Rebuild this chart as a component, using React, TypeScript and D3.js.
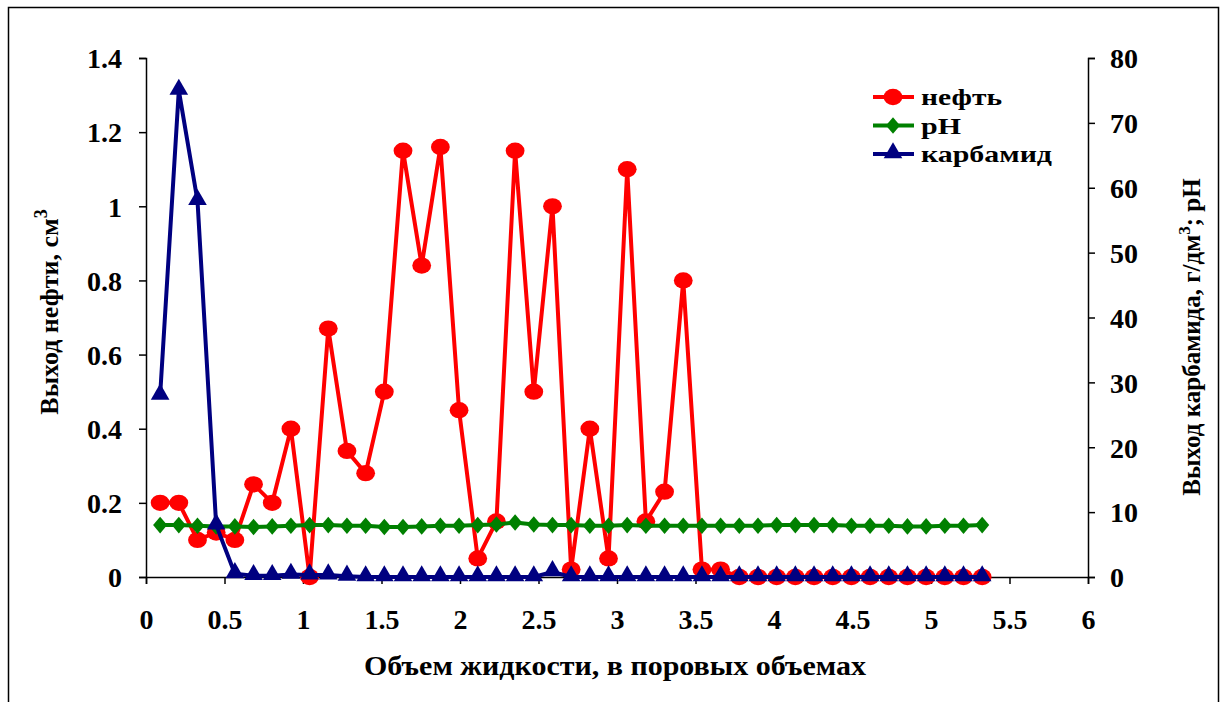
import React, { useEffect, useRef } from "react";
import * as d3 from "d3";

// pore volumes
const volumes = [
  0.09, 0.209, 0.328, 0.447, 0.566, 0.685, 0.804, 0.923, 1.042, 1.161,
  1.28, 1.399, 1.518, 1.637, 1.756, 1.875, 1.994, 2.113, 2.232, 2.351,
  2.47, 2.589, 2.708, 2.827, 2.946, 3.065, 3.184, 3.303, 3.422, 3.541,
  3.66, 3.779, 3.898, 4.017, 4.136, 4.255, 4.374, 4.493, 4.612, 4.731,
  4.85, 4.969, 5.088, 5.207, 5.326,
];

// oil output, cm3 (left axis)
const oil = [
  0.2, 0.2, 0.1, 0.12, 0.1, 0.25, 0.2, 0.4, 0.0, 0.67,
  0.34, 0.28, 0.5, 1.15, 0.84, 1.16, 0.45, 0.05, 0.15, 1.15,
  0.5, 1.0, 0.02, 0.4, 0.05, 1.1, 0.15, 0.23, 0.8, 0.02,
  0.02, 0, 0, 0, 0, 0, 0, 0, 0, 0,
  0, 0, 0, 0, 0,
];

// pH (right axis)
const ph = [
  8.0, 8.0, 7.9, 7.8, 7.8, 7.7, 7.8, 7.9, 8.0, 8.0,
  7.9, 7.9, 7.7, 7.7, 7.8, 7.9, 7.9, 8.0, 8.1, 8.4,
  8.1, 8.0, 8.0, 7.9, 7.9, 8.0, 7.9, 7.9, 7.9, 7.9,
  7.9, 7.9, 7.9, 8.0, 8.0, 8.0, 8.0, 7.9, 7.9, 7.9,
  7.8, 7.8, 7.9, 7.9, 8.0,
];

// carbamide output, g/dm3 (right axis)
const carbamide = [
  28, 75, 58, 8, 0.5, 0.2, 0.2, 0.4, 0.3, 0.3,
  0.1, 0, 0, 0, 0, 0, 0, 0, 0, 0,
  0, 0.8, 0, 0, 0, 0, 0, 0, 0, 0,
  0, 0, 0, 0, 0, 0, 0, 0, 0, 0,
  0, 0, 0, 0, 0,
];

const xTicks = [0, 0.5, 1, 1.5, 2, 2.5, 3, 3.5, 4, 4.5, 5, 5.5, 6];
const leftTicks = [0, 0.2, 0.4, 0.6, 0.8, 1, 1.2, 1.4];
const rightTicks = [0, 10, 20, 30, 40, 50, 60, 70, 80];

const legendNames = ["нефть", "pH", "карбамид"];
const legendWidths = [81, 40, 131];
const colors = ["#ff0000", "#008000", "#000080"];

const FONT = "'Liberation Serif', 'Times New Roman', serif";

export default function App() {
  const ref = useRef<SVGSVGElement>(null);

  useEffect(() => {
    document.body.style.margin = "0";
    const svg = d3.select(ref.current);
    svg.selectAll("*").remove();

    const left = 146, right = 1088, top = 58, bottom = 577;

    const x = d3.scaleLinear().domain([0, 6]).range([left, right]);
    const yL = d3.scaleLinear().domain([0, 1.4]).range([bottom, top]);
    const yR = d3.scaleLinear().domain([0, 80]).range([bottom, top]);

    // outer frame
    svg.append("rect")
      .attr("x", 8.5).attr("y", 7.5)
      .attr("width", 1210).attr("height", 700)
      .attr("fill", "white").attr("stroke", "black").attr("stroke-width", 1.5);

    const fmt = (d: number) => String(d);

    // axes
    const xAxis = svg.append("g")
      .attr("transform", `translate(0,${bottom})`)
      .call(d3.axisBottom(x).tickValues(xTicks).tickSize(7).tickPadding(25).tickFormat(fmt as any));
    const yAxisL = svg.append("g")
      .attr("transform", `translate(${left},0)`)
      .call(d3.axisLeft(yL).tickValues(leftTicks).tickSize(7).tickPadding(17).tickFormat(fmt as any));
    const yAxisR = svg.append("g")
      .attr("transform", `translate(${right},0)`)
      .call(d3.axisRight(yR).tickValues(rightTicks).tickSize(7).tickPadding(15).tickFormat(fmt as any));

    [xAxis, yAxisL, yAxisR].forEach((g) => {
      g.select(".domain").attr("stroke", "black").attr("stroke-width", 1.5);
      g.selectAll(".tick line").attr("stroke", "black").attr("stroke-width", 1.5);
      g.selectAll(".tick text")
        .attr("font-family", FONT)
        .attr("font-size", 28)
        .attr("font-weight", "bold")
        .attr("fill", "black");
    });
    yAxisL.selectAll(".tick text").attr("dy", "0.35em");
    yAxisR.selectAll(".tick text").attr("dy", "0.35em");

    // axis titles
    svg.append("text")
      .attr("x", 615).attr("y", 675)
      .attr("text-anchor", "middle")
      .attr("font-family", FONT).attr("font-size", 28).attr("font-weight", "bold")
      .attr("textLength", 502).attr("lengthAdjust", "spacingAndGlyphs")
      .text("Объем жидкости, в поровых объемах");

    const lt = svg.append("text")
      .attr("transform", "translate(58,312) rotate(-90)")
      .attr("text-anchor", "middle")
      .attr("font-family", FONT).attr("font-size", 26).attr("font-weight", "bold");
    lt.append("tspan").text("Выход нефти, см");
    lt.append("tspan").attr("dy", -11).attr("font-size", 18).text("3");

    const rt = svg.append("text")
      .attr("transform", "translate(1200,337) rotate(-90)")
      .attr("text-anchor", "middle")
      .attr("font-family", FONT).attr("font-size", 25).attr("font-weight", "bold");
    rt.append("tspan").text("Выход карбамида, г/дм");
    rt.append("tspan").attr("dy", -10).attr("font-size", 17).text("3");
    rt.append("tspan").attr("dy", 10).text("; pH");

    const circle = d3.symbol().type(d3.symbolCircle).size(230);
    const diamond = d3.symbol().type(d3.symbolDiamond).size(110);
    const triangle = d3.symbol().type(d3.symbolTriangle).size(150);
    const shapes = [circle, diamond, triangle];

    const markerTransform = (i: number, px: number, py: number) =>
      i === 1
        ? `translate(${px},${py}) scale(1.25,0.85)`
        : i === 0
        ? `translate(${px},${py}) scale(1.1,0.95)`
        : `translate(${px},${py - 1})`;

    const series = [
      { values: oil, y: yL },
      { values: ph, y: yR },
      { values: carbamide, y: yR },
    ];

    series.forEach((s, i) => {
      const pts = volumes.map((v, j) => [x(v), s.y(s.values[j])] as [number, number]);
      svg.append("path")
        .attr("d", d3.line()(pts))
        .attr("fill", "none")
        .attr("stroke", colors[i])
        .attr("stroke-width", 4)
        .attr("stroke-linejoin", "round");
      svg.append("g").selectAll("path")
        .data(pts)
        .join("path")
        .attr("transform", (p) => markerTransform(i, p[0], p[1]))
        .attr("d", shapes[i]() as string)
        .attr("fill", colors[i]);
    });

    // legend
    const lg = svg.append("g");
    legendNames.forEach((name, i) => {
      const cy = 97 + i * 28.5;
      lg.append("line")
        .attr("x1", 873).attr("x2", 914)
        .attr("y1", cy).attr("y2", cy)
        .attr("stroke", colors[i]).attr("stroke-width", 4);
      lg.append("path")
        .attr("transform", markerTransform(i, 893, cy))
        .attr("d", shapes[i]() as string)
        .attr("fill", colors[i]);
      lg.append("text")
        .attr("x", 921).attr("y", cy + 8)
        .attr("font-family", FONT).attr("font-size", 24).attr("font-weight", "bold")
        .attr("textLength", legendWidths[i]).attr("lengthAdjust", "spacingAndGlyphs")
        .text(name);
    });
  }, []);

  return <svg ref={ref} width={1226} height={702} style={{ display: "block" }} />;
}
